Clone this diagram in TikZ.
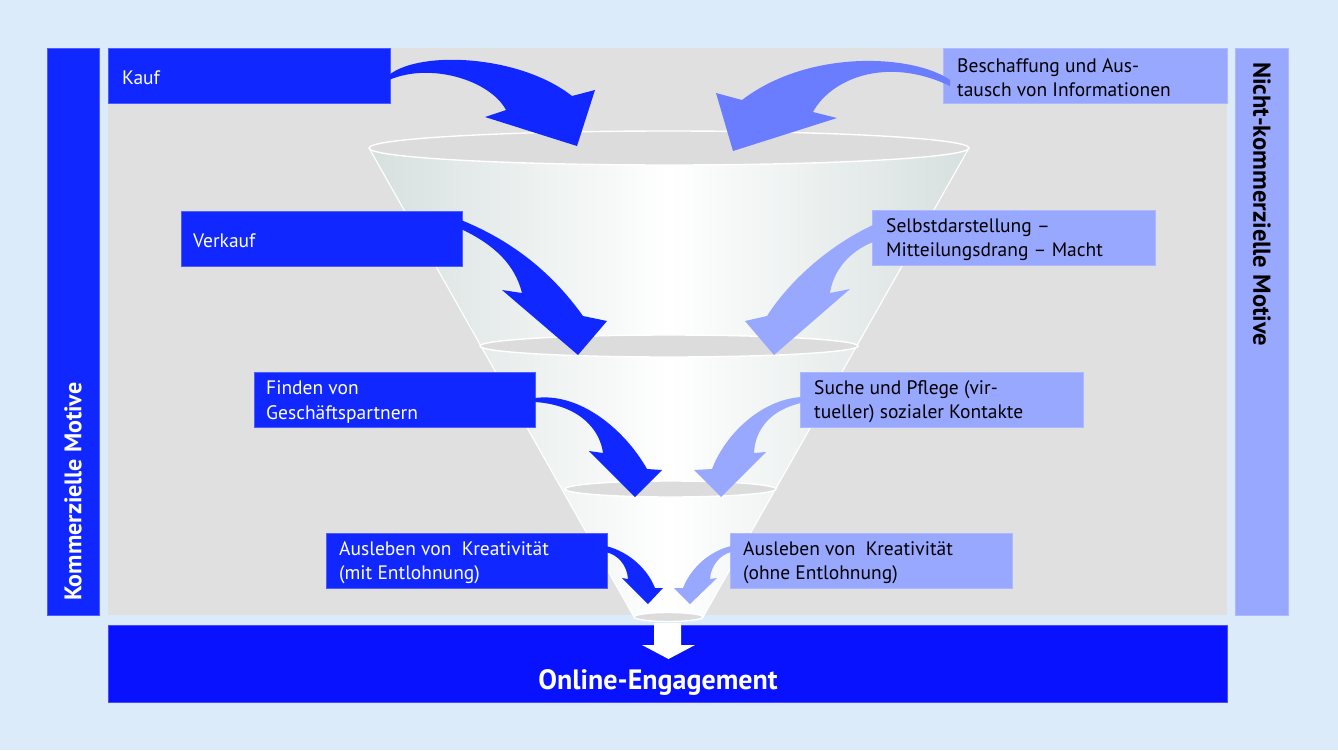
\documentclass[tikz,border=0pt]{standalone}
\usepackage{fontspec}
\setmainfont{PT Sans}
\definecolor{bgblue}{HTML}{DCEBF9}
\definecolor{panelgray}{HTML}{E0E0E0}
\definecolor{dblue}{HTML}{1028FF}
\definecolor{barblue}{HTML}{0812FF}
\definecolor{lblue}{HTML}{98A8FF}
\definecolor{mblue}{HTML}{6A7CFF}
\definecolor{funnelgray}{HTML}{D6E0DE}
\definecolor{ellgray}{HTML}{DCDCDC}
\begin{document}
\begin{tikzpicture}[x=1pt,y=-1pt,
  boxbase/.style={anchor=north west, inner sep=0pt, minimum height=55pt, line width=0.6pt},
  darkbox/.style={boxbase, fill=dblue, draw=dblue!75!white},
  lightbox/.style={boxbase, fill=lblue, draw=lblue!80!white},
  boxlabel/.style={font=\fontsize{19.5}{24.5}\selectfont, align=left, anchor=west, inner sep=0pt},
  darklabel/.style={boxlabel, text=white},
  lightlabel/.style={boxlabel, text=black},
  ellipsefill/.style={fill=ellgray, draw=white, line width=1.4pt},
  darrow/.style={fill=dblue},
  larrow/.style={fill=lblue},
  marrow/.style={fill=mblue}]
\useasboundingbox (0,0) rectangle (1338,750);
\fill[bgblue] (0,0) rectangle (1338,750);
% panel and side bars
\fill[panelgray] (108,48) rectangle (1227,615);
\node[fill=dblue, draw=dblue!75!white, line width=0.6pt, anchor=north west, minimum width=52pt, minimum height=567pt, inner sep=0pt] (lbar) at (47,48) {};
\node[fill=lblue, draw=lblue!80!white, line width=0.6pt, anchor=north west, minimum width=53pt, minimum height=567pt, inner sep=0pt] (rbar) at (1235,48) {};
\node[rotate=90, anchor=west, text=white, font=\fontsize{24}{24}\selectfont\bfseries, inner sep=0pt] (ltext) at (73,601) {Kommerzielle Motive};
\node[rotate=-90, anchor=west, text=black, font=\fontsize{24.5}{24.5}\selectfont\bfseries, inner sep=0pt] (rtext) at (1262,62) {Nicht-kommerzielle Motive};
% bottom bar
\node[fill=barblue, draw=barblue!75!white, line width=0.6pt, anchor=north west, minimum width=1119pt, minimum height=77pt, inner sep=0pt] (bbar) at (108,625) {};
% funnel
\fill[left color=funnelgray, right color=funnelgray, middle color=white] (369,148) -- (634,617) -- (703,617) -- (969,148) -- cycle;
\draw[white, line width=1.2pt] (369,148) -- (634,617) (969,148) -- (703,617);
\draw[ellipsefill] (669,148) ellipse [x radius=300, y radius=17];
\draw[ellipsefill] (669,346) ellipse [x radius=189, y radius=11];
\draw[ellipsefill] (670.5,489) ellipse [x radius=105.5, y radius=8];
\draw[ellipsefill] (668.5,617) ellipse [x radius=34.5, y radius=4.5];
% white output arrow
\fill[white] (654,623) -- (681,623) -- (681,645) -- (695,645) -- (668.5,659) -- (642,645) -- (654,645) -- cycle;
\node[text=white, font=\fontsize{28}{28}\selectfont\bfseries] (online) at (658,682) {Online-Engagement};
% boxes
\node[darkbox, minimum width=282pt] (kauf) at (108,48) {};
\node[darkbox, minimum width=281pt] (verkauf) at (181,211) {};
\node[darkbox, minimum width=281pt] (finden) at (254,372) {};
\node[darkbox, minimum width=281pt] (auslebenm) at (326,533) {};
\node[lightbox, minimum width=284pt] (beschaffung) at (943,48) {};
\node[lightbox, minimum width=283pt] (selbst) at (872,210) {};
\node[lightbox, minimum width=283pt] (suche) at (800,372) {};
\node[lightbox, minimum width=282pt] (auslebeno) at (730,533) {};
% box texts
\node[darklabel] (kauf-t) at ([xshift=14pt,yshift=-2pt]kauf.west) {Kauf};
\node[darklabel] (verkauf-t) at ([xshift=12pt,yshift=-2pt]verkauf.west) {Verkauf};
\node[darklabel] (finden-t) at ([xshift=12pt,yshift=-2pt]finden.west) {Finden von\\Geschäftspartnern};
\node[darklabel] (auslebenm-t) at ([xshift=13pt,yshift=-2pt]auslebenm.west) {Ausleben von\ \ Kreativität\\(mit Entlohnung)};
\node[lightlabel] (beschaffung-t) at ([xshift=14pt,yshift=-2pt]beschaffung.west) {Beschaffung und Aus-\\tausch von Informationen};
\node[lightlabel] (selbst-t) at ([xshift=14pt,yshift=-2pt]selbst.west) {Selbstdarstellung –\\Mitteilungsdrang – Macht};
\node[lightlabel] (suche-t) at ([xshift=14pt,yshift=-2pt]suche.west) {Suche und Pflege (vir-\\tueller) sozialer Kontakte};
\node[lightlabel] (auslebeno-t) at ([xshift=13pt,yshift=-2pt]auslebeno.west) {Ausleben von\ \ Kreativität\\(ohne Entlohnung)};
% block arrows
\fill[darrow] (389,75) .. controls (420,50) and (520,55) .. (572,96) -- (595,90) -- (577,146) -- (485,117) -- (506,110) .. controls (490,80) and (430,62) .. (389,80) -- cycle;
\fill[marrow] (950,80) .. controls (915,55) and (810,48) .. (742,100) -- (716,93) -- (733,151) -- (837,118) -- (813,112) .. controls (830,80) and (885,55) .. (950,86) -- cycle;
\fill[darrow] (461,220) .. controls (510,240) and (550,270) .. (583,316) -- (607,321) -- (578,355) -- (502,290) -- (522,293) .. controls (515,265) and (495,245) .. (461,229) -- cycle;
\fill[larrow] (873,225) .. controls (830,245) and (790,280) .. (767,316) -- (745,321) -- (774,355) -- (850,289) -- (830,293) .. controls (833,272) and (848,252) .. (873,242) -- cycle;
\fill[darrow] (535,398) .. controls (580,392) and (625,430) .. (647,469) -- (662,470) -- (635,497) -- (589,451) -- (603,453) .. controls (600,430) and (580,405) .. (535,402) -- cycle;
\fill[larrow] (801,397) .. controls (760,400) and (725,435) .. (712,469) -- (694,470) -- (721,497) -- (766,452) -- (754,453) .. controls (755,430) and (770,410) .. (801,403) -- cycle;
\fill[darrow] (606,546) .. controls (630,552) and (648,570) .. (655,588) -- (663,588) -- (648,604) -- (622,578) -- (628,579) .. controls (627,565) and (618,555) .. (606,552) -- cycle;
\fill[larrow] (731,546) .. controls (707,552) and (690,570) .. (683,588) -- (674,588) -- (690,604) -- (717,578) -- (710,579) .. controls (711,565) and (720,555) .. (731,552) -- cycle;
\end{tikzpicture}
\end{document}
